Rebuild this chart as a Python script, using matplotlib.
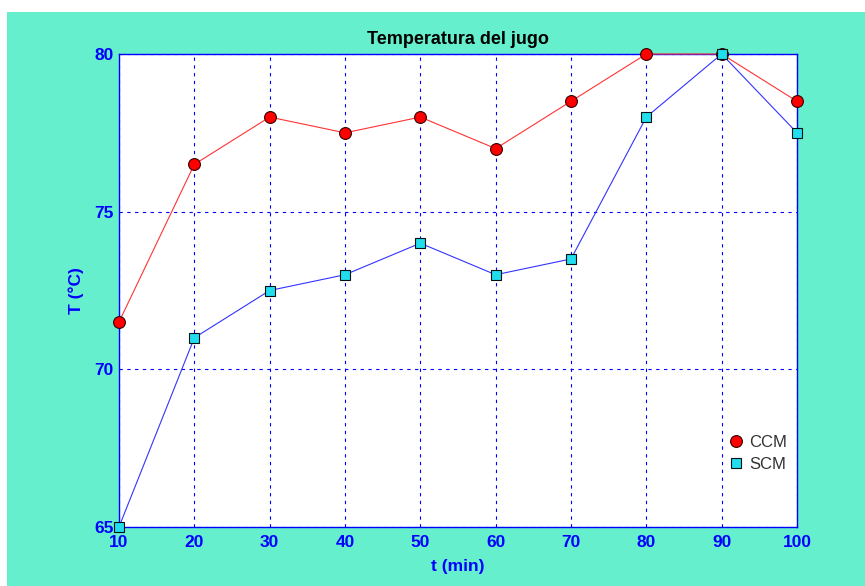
import matplotlib
matplotlib.use("Agg")
import matplotlib.pyplot as plt
from matplotlib.patches import Rectangle
from matplotlib.lines import Line2D

plt.rcParams['font.family'] = ['Liberation Sans', 'DejaVu Sans']

t_min = [10, 20, 30, 40, 50, 60, 70, 80, 90, 100]
ccm = [71.5, 76.5, 78, 77.5, 78, 77, 78.5, 80, 80, 78.5]
scm = [65, 71, 72.5, 73, 74, 73, 73.5, 78, 80, 77.5]
xticks = [10, 20, 30, 40, 50, 60, 70, 80, 90, 100]
yticks = [65, 70, 75, 80]

W, H = 865, 586
fig = plt.figure(figsize=(W / 100, H / 100), dpi=100, facecolor='white')
fig.patches.append(Rectangle((7 / W, 0), 1 - 7 / W, 1 - 12 / H,
                             transform=fig.transFigure, facecolor='#66EFCD',
                             edgecolor='none', zorder=-10))

ax = fig.add_axes([119 / W, 1 - 527 / H, (797 - 119) / W, (527 - 54) / H])
ax.set_facecolor('white')

ax.plot(t_min, ccm, color='#FF3333', lw=0.8, marker='o', ms=8.5,
        mfc='red', mec='#330000', mew=0.8, zorder=3, clip_on=False)
ax.plot(t_min, scm, color='#3333FF', lw=0.8, marker='s', ms=7,
        mfc='#22DDEE', mec='#001111', mew=0.8, zorder=4, clip_on=False)

ax.set_xlim(10, 100)
ax.set_ylim(65, 80)
ax.set_xticks(xticks)
ax.set_yticks(yticks)
ax.tick_params(axis='x', pad=6)
ax.tick_params(axis='y', pad=4)
ax.tick_params(axis='both', colors='blue', labelsize=12.5, length=0)
for lab in ax.get_xticklabels() + ax.get_yticklabels():
    lab.set_fontweight('bold')
for s in ax.spines.values():
    s.set_color('blue')
    s.set_linewidth(1.0)
ax.grid(True, color='blue', linestyle=(0, (3, 4)), linewidth=0.8)
ax.set_axisbelow(True)

ax.set_title('Temperatura del jugo', fontsize=13, fontweight='bold', color='black', pad=7)
ax.set_xlabel('t (min)', fontsize=12.5, fontweight='bold', color='blue', labelpad=6)
ax.set_ylabel('T (°C)', fontsize=12.5, fontweight='bold', color='blue', labelpad=7)

handles = [
    Line2D([], [], linestyle='none', marker='o', ms=8.5, mfc='red', mec='#330000', mew=0.8),
    Line2D([], [], linestyle='none', marker='s', ms=7, mfc='#22DDEE', mec='#001111', mew=0.8),
]
ax.legend(handles, ['CCM', 'SCM'], loc='lower right', bbox_to_anchor=(1.0, 0.095),
          frameon=False, fontsize=12, labelcolor='#333333', handletextpad=0.2,
          handlelength=1.2, borderaxespad=0.2, labelspacing=0.45)

fig.savefig('out.png', dpi=100, facecolor=fig.get_facecolor())
